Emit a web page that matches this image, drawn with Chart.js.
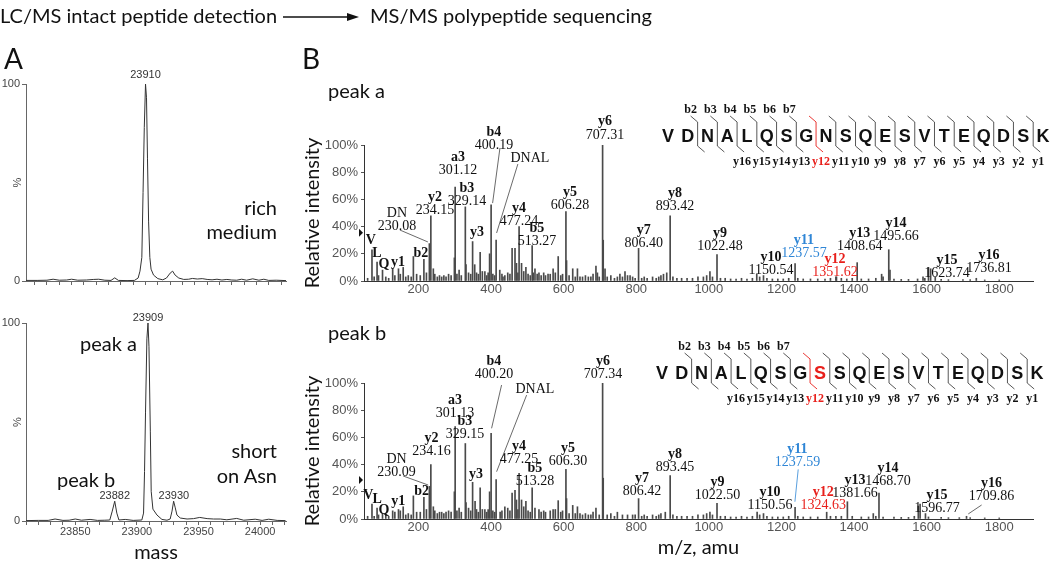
<!DOCTYPE html>
<html>
<head>
<meta charset="utf-8">
<script src="https://cdn.jsdelivr.net/npm/chart.js@4.4.1/dist/chart.umd.min.js"></script>
<style>
  html, body { margin: 0; padding: 0; background: #fff; }
  #page { position: relative; width: 1050px; height: 564px; overflow: hidden; }
  canvas { position: absolute; }
  #overlay { position: absolute; left: 0; top: 0; }
</style>
</head>
<body>
<div id="page">
  <canvas id="chartA1" width="295" height="225" style="left:0;top:70px"></canvas>
  <canvas id="chartA2" width="295" height="264" style="left:0;top:300px"></canvas>
  <canvas id="chartB1" width="750" height="204" style="left:300px;top:96px"></canvas>
  <canvas id="chartB2" width="750" height="234" style="left:300px;top:330px"></canvas>
  <svg id="overlay" width="1050" height="564"></svg>
</div>
<script>
// ---- data: panel A, deconvoluted intact masses ----
const massTicks = [23850, 23900, 23950, 24000];
const pctTicksA = [0, 100];

// rich medium
const massRich = [23813, 23822, 23830, 23835, 23840, 23846, 23850, 23855, 23862, 23868, 23872, 23877, 23882, 23885, 23888, 23895,
  23901, 23904, 23905.5, 23907, 23908, 23909, 23910, 23910.8, 23911.6, 23912.5, 23913.5, 23914.5, 23916.5, 23920, 23924,
  23927, 23930, 23932, 23934, 23937, 23941, 23945, 23948, 23952, 23956, 23960, 23964, 23968, 23972, 23976, 23980,
  23984, 23988, 23992, 23997, 24002, 24006, 24010, 24016, 24024];
const pctRich = [0.3, 0.3, 0.4, 0.9, 0.4, 0.5, 0.9, 0.4, 0.5, 0.8, 0.9, 0.4, 0.3, 1.6, 0.3, 0.2,
  0.3, 1.5, 5, 12, 45, 78, 100, 93, 62, 30, 12, 6, 3, 1.2, 0.6,
  1.5, 4, 5, 3, 1.5, 0.8, 0.9, 1.3, 1, 1.2, 0.8, 0.6, 0.9, 0.5, 0.8, 0.5,
  0.4, 0.9, 0.4, 1.1, 0.4, 0.9, 0.3, 0.4, 0.2];

// short on Asn
const massShort = [23810, 23820, 23828, 23833.6, 23840, 23845, 23850, 23855, 23862, 23868, 23874, 23878, 23880, 23882, 23883.7, 23885.4,
  23890.5, 23897, 23904, 23905.4, 23906.2, 23907, 23908.1, 23909, 23909.8, 23910.9, 23911.6, 23913, 23916.3, 23920.3, 23924.4,
  23927, 23928.5, 23929.8, 23931, 23932.5, 23935.2, 23940.7, 23946, 23951, 23957, 23962.3, 23967.7, 23973, 23981,
  23986.7, 23996, 24001.6, 24007, 24013.8, 24020.6];
const pctShort = [0.2, 0.3, 0.3, 1, 0.3, 0.4, 1, 0.4, 0.8, 0.3, 0.4, 0.5, 5, 10, 4, 0.5,
  0.8, 0.3, 0.5, 4, 25, 55, 92, 100, 88, 45, 15, 6, 3, 0.8, 0.4,
  1, 5, 10, 7, 3, 1.5, 1, 1.2, 1.8, 1.2, 1, 1, 0.6, 1.3,
  0.4, 0.9, 0.3, 0.9, 0.3, 0.2];

// ---- data: panel B, MS/MS spectra ----
const mzTicks = [200, 400, 600, 800, 1000, 1200, 1400, 1600, 1800];
const pctTicksB = [0, 20, 40, 60, 80, 100];

// peak a: assigned / prominent fragments
const mzPeakA = [72, 86, 101, 129, 145, 158, 186, 215, 230.08, 234.15, 241, 299, 301.12, 329.14, 331, 349.18, 370, 383, 396,
  400.19, 414, 424, 438, 458, 466, 470, 477.24, 484, 496, 513.27, 516, 527, 557, 571, 585, 606.28, 608, 625, 638, 689,
  693, 707.31, 709, 714, 755, 769, 783, 806.40, 875, 884, 893.42, 1003, 1022.48, 1132, 1150.54, 1237.57, 1351.62,
  1408.64, 1476, 1495.66, 1499, 1590, 1605, 1611, 1623.74, 1736.81];
const intPeakA = [23, 14, 8, 9, 9, 10, 18, 16, 27.5, 48, 9, 17, 69, 54.5, 12, 29, 21, 7, 20,
  56, 30, 8, 4, 24, 24, 13, 40, 13, 10, 26, 6, 5, 5, 9, 18, 51, 15, 9, 9, 11,
  6, 100, 30, 9, 5, 7, 4, 24, 5, 6, 48, 7, 19.4, 5, 4, 12.8, 3,
  13.5, 5, 23, 8, 3, 10, 9, 3, 2];
// peak a: small background ions
const mzNoiseA = [60, 78, 90, 110, 118, 135, 150, 165, 172, 180, 195, 205, 222, 245, 252, 258, 264, 270, 276, 283, 290, 306, 312, 318,
  338, 344, 355, 360, 365, 376, 388, 392, 405, 410, 430, 433, 446, 452, 474, 490, 502, 508, 521, 532, 538, 545, 550, 563,
  577, 592, 597, 615, 632, 645, 652, 660, 668, 675, 681, 698, 720, 730, 740, 748, 762, 776, 790, 797, 815, 822, 830, 845,
  855, 862, 868, 901, 912, 925, 940, 955, 970, 985, 994, 1010, 1032, 1045, 1060, 1075, 1090, 1105, 1120, 1140, 1160,
  1175, 1190, 1205, 1220, 1245, 1260, 1280, 1300, 1320, 1335, 1350, 1365, 1380, 1395, 1420, 1440, 1460, 1480, 1510,
  1530, 1550, 1575, 1595, 1640, 1660, 1700, 1720, 1760, 1800];
const intNoiseA = [2, 3, 4, 3, 2, 4, 5, 3, 4, 3, 5, 4, 6, 5, 3, 4, 3, 4, 3, 5, 4, 5, 8, 4,
  6, 5, 12, 6, 5, 7, 4, 6, 5, 4, 5, 3, 6, 5, 6, 7, 5, 4, 9, 6, 4, 6, 4, 5,
  6, 4, 5, 4, 3, 3, 3, 4, 3, 3, 5, 3, 3, 4, 2, 3, 3, 4, 3, 2, 2, 3, 2, 3,
  2, 3, 4, 3, 2, 2, 2, 2, 3, 3, 4, 3, 2, 2, 1.5, 1.5, 2, 1.5, 2, 3, 2,
  1.5, 1.5, 1.5, 2, 2, 1.5, 1.5, 1.5, 1.5, 2, 3, 2, 1.5, 2, 1.5, 1.5, 2, 3, 1.5,
  1.2, 1.2, 1.5, 2, 1.2, 1, 1, 1, 0.8, 0.8];

// peak b: assigned / prominent fragments
const mzPeakB = [72, 86, 101, 129, 145, 158, 186, 215, 230.09, 234.16, 241, 299, 301.13, 329.15, 331, 349.18, 356, 370, 383, 396,
  400.20, 414, 438, 458, 466, 470, 477.25, 484, 496, 513.28, 585, 606.30, 608, 625, 638, 689, 707.34, 709, 806.42,
  893.45, 1003, 1022.50, 1133, 1150.56, 1237.59, 1324.63, 1381.66, 1453, 1468.70, 1577, 1582, 1596.77, 1709.86];
const intPeakB = [11, 8, 4, 6, 7, 9, 17, 16, 24, 40, 9, 20, 68, 55.5, 12, 27, 13, 23, 7, 20,
  63, 29, 9, 19, 21, 14, 33.5, 14, 13, 23, 13.5, 36.5, 15, 10, 9, 8, 100, 30, 15,
  32, 5, 11.5, 5, 4, 8.5, 5, 12.7, 4, 19, 9.5, 11, 4, 2];
// peak b: small background ions
const mzNoiseB = [60, 78, 90, 110, 118, 135, 150, 165, 172, 180, 195, 205, 222, 245, 252, 258, 264, 270, 276, 283, 290, 306, 312, 318,
  338, 344, 360, 365, 376, 388, 392, 405, 410, 425, 430, 446, 452, 474, 490, 502, 508, 521, 532, 538, 545, 550, 563, 571,
  577, 592, 597, 615, 632, 645, 652, 660, 668, 675, 681, 698, 720, 730, 740, 748, 762, 776, 790, 797, 815, 822, 830, 845,
  855, 862, 868, 880, 901, 912, 925, 940, 955, 970, 985, 994, 1010, 1032, 1045, 1060, 1075, 1090, 1105, 1120, 1140, 1160,
  1175, 1190, 1205, 1220, 1245, 1260, 1280, 1300, 1335, 1350, 1365, 1395, 1420, 1440, 1460, 1480, 1510, 1530, 1550,
  1566, 1605, 1640, 1660, 1690, 1720, 1760, 1800];
const intNoiseB = [2, 2, 3, 3, 2, 5, 6, 3, 4, 3, 5, 5, 7, 6, 4, 5, 5, 4, 5, 6, 5, 6, 8, 5,
  8, 6, 7, 5, 7, 5, 7, 6, 5, 5, 6, 8, 6, 7, 9, 6, 5, 8, 7, 5, 6, 5, 6, 7,
  7, 5, 6, 4, 4, 4, 3, 4, 3, 3, 5, 3, 3, 4, 2, 5, 3, 3, 3, 3, 2, 3, 2, 3,
  2, 3, 4, 5, 3, 2, 2, 2, 2, 3, 3, 4, 3, 2, 2, 1.5, 1.5, 2, 1.5, 2, 3, 2,
  1.5, 1.5, 1.5, 2, 2, 1.5, 1.5, 1.5, 2, 2, 2, 2, 1.5, 1.5, 2, 1.5, 1.5, 1.2, 1.2,
  2, 1.5, 1.2, 1, 1, 1, 0.8, 0.8];

// peptide sequences
const seqPeakA = ['V', 'D', 'N', 'A', 'L', 'Q', 'S', 'G', 'N', 'S', 'Q', 'E', 'S', 'V', 'T', 'E', 'Q', 'D', 'S', 'K'];
const seqPeakB = ['V', 'D', 'N', 'A', 'L', 'Q', 'S', 'G', 'S', 'S', 'Q', 'E', 'S', 'V', 'T', 'E', 'Q', 'D', 'S', 'K'];
const bIons = ['b2', 'b3', 'b4', 'b5', 'b6', 'b7'];
const yIons = ['y16', 'y15', 'y14', 'y13', 'y12', 'y11', 'y10', 'y9', 'y8', 'y7', 'y6', 'y5', 'y4', 'y3', 'y2', 'y1'];

const BLUE = '#2f86d6';
const RED = '#e8201c';

// ion annotations: name, value, placed at [m/z, %] of the label
const ionLabelsA = [
  ['V', '', 69, 30.1], ['L', '', 85.5, 20.6], ['Q', '', 104.8, 12.5], ['y1', '', 143.4, 14], ['b2', '', 206.7, 20.6],
  ['DN', '230.08', 140.6, 50], ['y2', '234.15', 245.3, 61.7], ['a3', '301.12', 308.7, 91.1], ['b3', '329.14', 333.5, 68.4],
  ['y3', '', 361, 36], ['b4', '400.19', 407.9, 109.5], ['DNAL', '', 507, 90.4], ['y4', '477.24', 476.7, 53.7],
  ['b5', '513.27', 526.3, 39], ['y5', '606.28', 617.2, 65.4], ['y6', '707.31', 713.6, 117], ['y7', '806.40', 821, 37.5],
  ['y8', '893.42', 906.5, 64.7], ['y9', '1022.48', 1030.5, 35.3], ['y10', '1150.54', 1171, 17.6],
  ['y11', '1237.57', 1262, 30.1, BLUE], ['y12', '1351.62', 1347.3, 16.2, RED], ['y13', '1408.64', 1416, 35.3],
  ['y14', '1495.66', 1515.4, 42.6], ['y15', '1623.74', 1656, 15.4], ['y16', '1736.81', 1772, 19.1]
];
const ionLabelsB = [
  ['V', '', 61.6, 17.6], ['L', '', 86.3, 14.5], ['Q', '', 104.8, 6.6], ['y1', '', 144.2, 13.2], ['b2', '', 208.6, 20.1],
  ['DN', '230.09', 139.8, 43.9], ['y2', '234.16', 236.2, 59.3], ['a3', '301.13', 300.4, 87.5], ['b3', '329.15', 328, 71.5],
  ['y3', '', 358.2, 33.1], ['b4', '400.20', 407.8, 115.6], ['DNAL', '', 520.8, 95.3], ['y4', '477.25', 476.7, 53.1],
  ['b5', '513.28', 520.8, 37.3], ['y5', '606.30', 611.7, 52], ['y6', '707.34', 708.1, 115.6], ['y7', '806.42', 815.6, 29.9],
  ['y8', '893.45', 906.5, 47.8], ['y9', '1022.50', 1023.6, 27], ['y10', '1150.56', 1168.2, 19.6],
  ['y11', '1237.59', 1244, 51.5, BLUE], ['y12', '1324.63', 1315, 19.3, RED], ['y13', '1381.66', 1402.7, 28.7],
  ['y14', '1468.70', 1493.3, 37.3], ['y15', '1596.77', 1628.3, 17.1], ['y16', '1709.86', 1779, 26.2]
];
// leader lines from label to peak: [m/z1, %1, m/z2, %2, colour]
const leadersA = [[148.8, 37.5, 226, 28.7], [424.5, 97.8, 404.3, 57.3], [473.9, 86, 415.3, 35.3]];
const leadersB = [[158, 31.6, 226.8, 25], [429, 98.5, 401.5, 66.7], [498, 91.1, 415.3, 34.8],
  [1246.2, 36.5, 1237.1, 12.7, BLUE], [1751.5, 10.3, 1714.6, 3.7]];

Chart.defaults.font.family = '"Liberation Sans", Arial, sans-serif';
Chart.defaults.color = '#555';

const toXY = (xs, ys) => xs.map((x, i) => ({ x: x, y: ys[i] }));
const narrow = '"Liberation Sans Narrow", "Arial Narrow", "Liberation Sans", sans-serif';

// labels above the mass peaks in panel A
function massLabelPlugin(items) {
  return {
    id: 'massLabels',
    afterDatasetsDraw(chart) {
      const { ctx, scales: { x, y } } = chart;
      ctx.save();
      ctx.font = '11px ' + narrow;
      ctx.fillStyle = '#333';
      ctx.textAlign = 'center';
      ctx.textBaseline = 'middle';
      items.forEach(([text, mass, pct]) => ctx.fillText(text, x.getPixelForValue(mass), y.getPixelForValue(pct)));
      ctx.restore();
    }
  };
}

// fragment ion labels, leader lines and the precursor marker in panel B
function ionLabelPlugin(labels, leaders, markerPct) {
  return {
    id: 'ionLabels',
    afterDatasetsDraw(chart) {
      const { ctx, scales: { x, y }, chartArea } = chart;
      ctx.save();
      ctx.lineWidth = 0.8;
      leaders.forEach(l => {
        ctx.strokeStyle = l[4] || '#444';
        ctx.beginPath();
        ctx.moveTo(x.getPixelForValue(l[0]), y.getPixelForValue(l[1]));
        ctx.lineTo(x.getPixelForValue(l[2]), y.getPixelForValue(l[3]));
        ctx.stroke();
      });
      ctx.textAlign = 'center';
      ctx.textBaseline = 'middle';
      labels.forEach(([name, value, mz, pct, color]) => {
        const px = x.getPixelForValue(mz), py = y.getPixelForValue(pct);
        ctx.fillStyle = color || '#111';
        ctx.font = (name.startsWith('DN') ? '' : 'bold ') + '14px "Liberation Serif", "Times New Roman", serif';
        ctx.fillText(name, px, py);
        if (value) {
          ctx.font = '14px "Liberation Serif", "Times New Roman", serif';
          ctx.fillText(value, px, py + 13);
        }
      });
      // small precursor arrow on the intensity axis
      const my = y.getPixelForValue(markerPct);
      ctx.fillStyle = '#111';
      ctx.beginPath();
      ctx.moveTo(chartArea.left - 5, my - 4);
      ctx.lineTo(chartArea.left - 1, my);
      ctx.lineTo(chartArea.left - 5, my + 4);
      ctx.closePath();
      ctx.fill();
      ctx.restore();
    }
  };
}

function massChart(id, xs, ys, withLabels, padTop, axisHeight, labels, min, max) {
  return new Chart(document.getElementById(id), {
    type: 'line',
    data: { datasets: [{ data: toXY(xs, ys), borderColor: '#333', borderWidth: 1, pointRadius: 0, tension: 0, fill: false }] },
    options: {
      responsive: false, animation: false, devicePixelRatio: 1,
      layout: { padding: { top: padTop, right: 9, left: 0, bottom: 0 } },
      plugins: { legend: { display: false }, tooltip: { enabled: false } },
      scales: {
        x: {
          type: 'linear', min: min, max: max,
          afterBuildTicks: s => {
            const t = [];
            for (let v = Math.ceil(s.min / 10) * 10; v <= s.max; v += 10) t.push({ value: v });
            s.ticks = t;
          },
          afterFit: s => { s.height = axisHeight; },
          ticks: {
            autoSkip: false, maxRotation: 0, padding: 0, color: '#444',
            font: { size: 11, family: narrow },
            callback: v => (withLabels && massTicks.includes(v)) ? String(v) : ''
          },
          grid: { display: true, drawOnChartArea: false, drawTicks: true, tickLength: 4, color: '#666' },
          border: { display: true, color: '#666' },
          title: { display: withLabels, text: 'mass', color: '#111', padding: 0,
            font: { size: 20, family: 'Lato, "Open Sans", sans-serif', lineHeight: 1.1 } }
        },
        y: {
          min: 0, max: 100,
          afterBuildTicks: s => { s.ticks = pctTicksA.map(v => ({ value: v })); },
          afterFit: s => { s.width = 26; },
          ticks: { padding: 2, color: '#444', font: { size: 11, family: narrow } },
          grid: { display: true, drawOnChartArea: false, drawTicks: true, tickLength: 4, color: '#666' },
          border: { display: true, color: '#666' },
          title: { display: true, text: '%', color: '#444', padding: { top: 11, bottom: 0 },
            font: { size: 11, family: narrow, lineHeight: 1.2 } }
        }
      }
    },
    plugins: [massLabelPlugin(labels)]
  });
}

function msmsChart(id, peakMz, peakInt, noiseMz, noiseInt, labels, leaders, markerPct, padTop, axisHeight, withTitle) {
  return new Chart(document.getElementById(id), {
    type: 'bar',
    data: {
      datasets: [{
        data: toXY(noiseMz.concat(peakMz), noiseInt.concat(peakInt)),
        backgroundColor: '#4a4a4a', barThickness: 1, grouped: false
      }]
    },
    options: {
      responsive: false, animation: false, devicePixelRatio: 1,
      layout: { padding: { top: padTop, right: 17, left: 0, bottom: 0 } },
      plugins: { legend: { display: false }, tooltip: { enabled: false } },
      scales: {
        x: {
          type: 'linear', min: 50, max: 1893, offset: false,
          afterBuildTicks: s => { s.ticks = mzTicks.map(v => ({ value: v })); },
          afterFit: s => { s.height = axisHeight; },
          ticks: { autoSkip: false, maxRotation: 0, padding: 1, color: '#555', font: { size: 13 },
            callback: v => String(v) },
          grid: { display: true, offset: false, drawOnChartArea: false, drawTicks: false, color: '#444' },
          border: { display: true, color: '#333' },
          title: { display: withTitle, text: 'm/z, amu', color: '#111', padding: { top: 0, bottom: 5 },
            font: { size: 20, family: 'Lato, "Open Sans", sans-serif', lineHeight: 1.1 } }
        },
        y: {
          min: 0, max: 100,
          afterBuildTicks: s => { s.ticks = pctTicksB.map(v => ({ value: v })); },
          afterFit: s => { s.width = 64; },
          ticks: { padding: 3, color: '#555', font: { size: 13 }, callback: v => v + '%' },
          grid: { display: true, drawOnChartArea: false, drawTicks: true, tickLength: 3, color: '#555' },
          border: { display: true, color: '#333' },
          title: { display: true, text: 'Relative intensity', color: '#111', padding: { top: 1, bottom: 0 },
            font: { size: 20, family: 'Lato, "Open Sans", sans-serif', lineHeight: 1.2 } }
        }
      }
    },
    plugins: [ionLabelPlugin(labels, leaders, markerPct)]
  });
}

massChart('chartA1', massRich, pctRich, false, 14, 14, [['23910', 23910, 104.6]], 23813, 24024);
massChart('chartA2', massShort, pctShort, true, 23, 43,
  [['23909', 23909, 102.5], ['23882', 23882, 12.6], ['23930', 23930, 12.6]], 23810, 24021);
msmsChart('chartB1', mzPeakA, intPeakA, mzNoiseA, intNoiseA, ionLabelsA, leadersA, 35.5, 49, 19, false);
msmsChart('chartB2', mzPeakB, intPeakB, mzNoiseB, intNoiseB, ionLabelsB, leadersB, 28.7, 53, 45, true);

// ---- text, arrow and sequence diagrams ----
const svg = document.getElementById('overlay');
function addSvg(tag, attrs, text) {
  const el = document.createElementNS('http://www.w3.org/2000/svg', tag);
  for (const k in attrs) el.setAttribute(k, attrs[k]);
  if (text !== undefined) el.textContent = text;
  svg.appendChild(el);
  return el;
}
function addText(str, x, y, size, opts) {
  opts = opts || {};
  return addSvg('text', {
    x: x, y: y, 'font-size': size, 'font-family': opts.family || 'Lato, "Open Sans", sans-serif',
    'font-weight': opts.weight || 'normal', fill: opts.color || '#111',
    'text-anchor': opts.anchor || 'start', 'dominant-baseline': 'central'
  }, str);
}

addText('LC/MS intact peptide detection', 0, 15, 20);
addSvg('line', { x1: 283, y1: 17, x2: 349, y2: 17, stroke: '#111', 'stroke-width': 1.5 });
addSvg('polygon', { points: '347,13 359,17 347,21', fill: '#111' });
addText('MS/MS polypeptide sequencing', 370, 15, 20);
addText('A', 4, 58, 28);
addText('B', 302, 58, 28);

addText('rich', 277, 207, 20, { anchor: 'end' });
addText('medium', 277, 231, 20, { anchor: 'end' });
addText('peak a', 80, 343, 20);
addText('peak b', 57, 479, 20);
addText('short', 277, 450, 20, { anchor: 'end' });
addText('on Asn', 277, 475, 20, { anchor: 'end' });
addText('peak a', 328, 90, 20);
addText('peak b', 328, 332, 20);

function drawSequence(seq, x0, yc, redResidue) {
  const pitch = 19.74;
  seq.forEach((r, i) => {
    addText(r, x0 + i * pitch, yc, 18, { anchor: 'middle', weight: 'bold', family: '"Liberation Sans", Arial, sans-serif',
      color: i === redResidue ? RED : '#111' });
  });
  for (let k = 2; k < seq.length; k++) {
    const sx = x0 + (k - 0.5) * pitch;
    const col = k === 8 ? RED : '#444';
    addSvg('polyline', {
      points: (sx - 7) + ',' + (yc - 20) + ' ' + sx + ',' + (yc - 14) + ' ' + sx + ',' + (yc + 10) + ' ' + (sx + 7) + ',' + (yc + 16),
      fill: 'none', stroke: col, 'stroke-width': 0.9
    });
    if (k <= 7) addText(bIons[k - 2], sx - 7, yc - 27, 12, { anchor: 'middle', weight: 'bold', family: '"Liberation Serif", serif' });
    if (k >= 4) addText(yIons[k - 4], sx + 5, yc + 25, 12, { anchor: 'middle', weight: 'bold', family: '"Liberation Serif", serif',
      color: k === 8 ? RED : '#111' });
  }
}
drawSequence(seqPeakA, 668, 136, -1);
drawSequence(seqPeakB, 662, 373, 8);
</script>
</body>
</html>
